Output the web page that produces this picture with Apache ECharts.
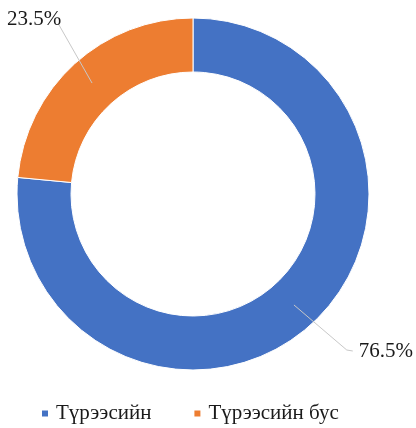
<!DOCTYPE html>
<html>
<head>
<meta charset="utf-8">
<script src="https://cdn.jsdelivr.net/npm/echarts@6/dist/echarts.min.js"></script>
<style>
  html, body { margin: 0; padding: 0; background: #fff; }
  #chart { width: 416px; height: 428px; }
</style>
</head>
<body>
<div id="chart"></div>
<script>
// Share of respondents by tenure status
const categories = ['Түрээсийн', 'Түрээсийн бус'];
const shares = [76.5, 23.5];
const colors = ['#4472C4', '#ED7D31'];

// Where each percentage label sits (anchor point, alignment)
const labelPlacement = [
  { x: 413, y: 351, align: 'right' },
  { x: 7, y: 19, align: 'left' }
];

const ringData = categories.map((name, i) => ({
  name: name,
  value: shares[i],
  itemStyle: { color: colors[i] }
}));
const labelData = categories.map((name, i) => ({ name: name, value: shares[i] }));

const FONT = 'Liberation Serif';
const center = [193, 194];

const chart = echarts.init(document.getElementById('chart'), null, { renderer: 'canvas' });
chart.setOption({
  animation: false,
  backgroundColor: '#ffffff',
  legend: {
    data: categories,
    left: 40,
    top: 403,
    padding: 0,
    itemWidth: 8,
    itemHeight: 8,
    itemGap: 41,
    icon: 'rect',
    textStyle: {
      fontFamily: FONT,
      fontSize: 21,
      color: '#1a1a1a',
      padding: [0, 0, 0, 2]
    }
  },
  series: [
    {
      // visible ring
      type: 'pie',
      center: center,
      radius: [122, 176],
      startAngle: 90,
      clockwise: true,
      silent: true,
      z: 1,
      itemStyle: { borderColor: '#ffffff', borderWidth: 1 },
      label: { show: false },
      labelLine: { show: false },
      data: ringData
    },
    {
      // transparent twin carrying the labels, leader lines start mid-ring
      type: 'pie',
      center: center,
      radius: [0, 150],
      startAngle: 90,
      clockwise: true,
      silent: true,
      z: 5,
      legendHoverLink: false,
      itemStyle: { color: 'rgba(0,0,0,0)', borderWidth: 0 },
      label: {
        show: true,
        position: 'outside',
        overflow: 'none',
        formatter: p => p.value.toFixed(1) + '%',
        fontFamily: FONT,
        fontSize: 21,
        color: '#1a1a1a'
      },
      labelLine: {
        show: true,
        length: 20,
        length2: 5,
        lineStyle: { color: '#c8c8c8', width: 1 }
      },
      labelLayout: function (p) {
        const place = labelPlacement[p.dataIndex];
        const w = p.labelRect.width;
        const h = p.labelRect.height;
        const left = place.align === 'left' ? place.x : place.x - w;
        const start = p.labelLinePoints ? p.labelLinePoints[0] : null;
        let end;
        if (place.align === 'left') {
          end = [left + w - 3, place.y + h * 0.22];
        } else {
          end = [left - 6, place.y];
        }
        const out = {
          x: place.x,
          y: place.y,
          align: place.align,
          verticalAlign: 'middle'
        };
        if (start) {
          out.labelLinePoints = place.align === 'left'
            ? [start, end]
            : [start, [end[0] - 6, end[1] - 1], end];
        }
        return out;
      },
      data: labelData
    }
  ]
});
</script>
</body>
</html>
